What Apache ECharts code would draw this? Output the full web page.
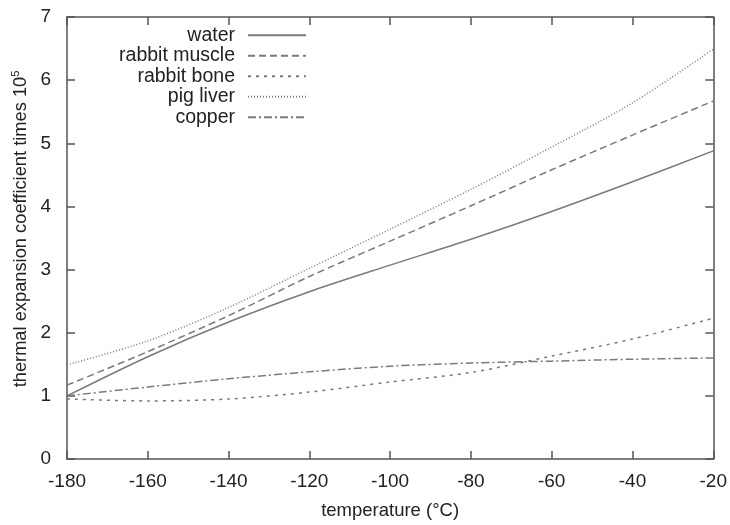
<!DOCTYPE html>
<html>
<head>
<meta charset="utf-8">
<script src="https://cdn.jsdelivr.net/npm/echarts@6/dist/echarts.min.js"></script>
<style>
  html, body { margin: 0; padding: 0; background: #fff; }
  #chart { width: 730px; height: 525px; }
</style>
</head>
<body>
<div id="chart"></div>
<script>
  // temperatures (°C) the curves were read at
  const temps = [-180, -160, -140, -120, -100, -80, -60, -40, -20];
  const water = [1.0, 1.62, 2.17, 2.65, 3.07, 3.48, 3.92, 4.39, 4.88];
  const rabbitMuscle = [1.17, 1.7, 2.27, 2.89, 3.45, 4.01, 4.58, 5.13, 5.67];
  const rabbitBone = [0.95, 0.92, 0.95, 1.06, 1.22, 1.37, 1.63, 1.9, 2.23];
  const pigLiver = [1.49, 1.87, 2.4, 3.02, 3.64, 4.27, 4.94, 5.64, 6.49];
  const copper = [1.0, 1.14, 1.27, 1.38, 1.47, 1.52, 1.55, 1.58, 1.6];

  const FONT = 'Liberation Sans, Arial, sans-serif';
  const AXIS_COLOR = '#555';
  const LINE_COLOR = '#7a7a7a';

  const pairs = (ys) => temps.map((t, i) => [t, ys[i]]);

  const mkSeries = (name, ys, dash, width) => ({
    name: name,
    type: 'line',
    smooth: 0.3,
    symbol: 'none',
    data: pairs(ys),
    lineStyle: { color: LINE_COLOR, width: width, type: dash },
    itemStyle: { color: LINE_COLOR },
  });

  const xCommon = {
    type: 'value',
    min: -180,
    max: -20,
    interval: 20,
    axisLine: { show: true, onZero: false, lineStyle: { color: AXIS_COLOR, width: 1.5 } },
    axisTick: { show: true, inside: true, length: 8, lineStyle: { color: AXIS_COLOR, width: 1.5 } },
    splitLine: { show: false },
  };
  const yCommon = {
    type: 'value',
    min: 0,
    max: 7,
    interval: 1,
    axisLine: { show: true, onZero: false, lineStyle: { color: AXIS_COLOR, width: 1.5 } },
    axisTick: { show: true, inside: true, length: 8, lineStyle: { color: AXIS_COLOR, width: 1.5 } },
    splitLine: { show: false },
  };

  const option = {
    animation: false,
    backgroundColor: '#fff',
    textStyle: { fontFamily: FONT },
    grid: { left: 67, right: 15, top: 17, bottom: 66, containLabel: false },
    legend: {
      orient: 'vertical',
      align: 'right',
      right: 418,
      top: 20,
      itemWidth: 58,
      itemHeight: 12,
      itemGap: 0,
      itemStyle: { opacity: 0 },
      textStyle: { fontFamily: FONT, fontSize: 19.5, color: '#222', lineHeight: 20.5, padding: [0, 8, 0, 0] },
      data: ['water', 'rabbit muscle', 'rabbit bone', 'pig liver', 'copper'],
    },
    xAxis: [
      Object.assign({}, xCommon, {
        position: 'bottom',
        name: 'temperature (°C)',
        nameLocation: 'middle',
        nameGap: 42,
        nameTextStyle: { fontFamily: FONT, fontSize: 18.5, color: '#222' },
        axisLabel: { fontFamily: FONT, fontSize: 19, color: '#222', margin: 13 },
      }),
      Object.assign({}, xCommon, { position: 'top', axisLabel: { show: false } }),
    ],
    yAxis: [
      Object.assign({}, yCommon, {
        position: 'left',
        name: '{a|thermal expansion coefficient times 10}{s|5}',
        nameLocation: 'middle',
        nameRotate: 90,
        nameGap: 36,
        nameTextStyle: {
          fontFamily: FONT,
          color: '#222',
          padding: [0, 0, 0, 18],
          rich: {
            a: { fontFamily: FONT, fontSize: 18.3, color: '#222' },
            s: { fontFamily: FONT, fontSize: 11, color: '#222', padding: [0, 0, 10, 0] },
          },
        },
        axisLabel: { fontFamily: FONT, fontSize: 19, color: '#222', margin: 16 },
      }),
      Object.assign({}, yCommon, { position: 'right', axisLabel: { show: false } }),
    ],
    series: [
      mkSeries('water', water, 'solid', 1.5),
      mkSeries('rabbit muscle', rabbitMuscle, [7, 4], 1.5),
      mkSeries('rabbit bone', rabbitBone, [3, 5], 1.5),
      mkSeries('pig liver', pigLiver, [1, 2], 1.5),
      mkSeries('copper', copper, [8, 3, 2, 3], 1.5),
    ],
  };

  const myChart = echarts.init(document.getElementById('chart'));
  option && myChart.setOption(option);
  window.addEventListener('resize', function () {
    myChart && myChart.resize();
  });
</script>
</body>
</html>
